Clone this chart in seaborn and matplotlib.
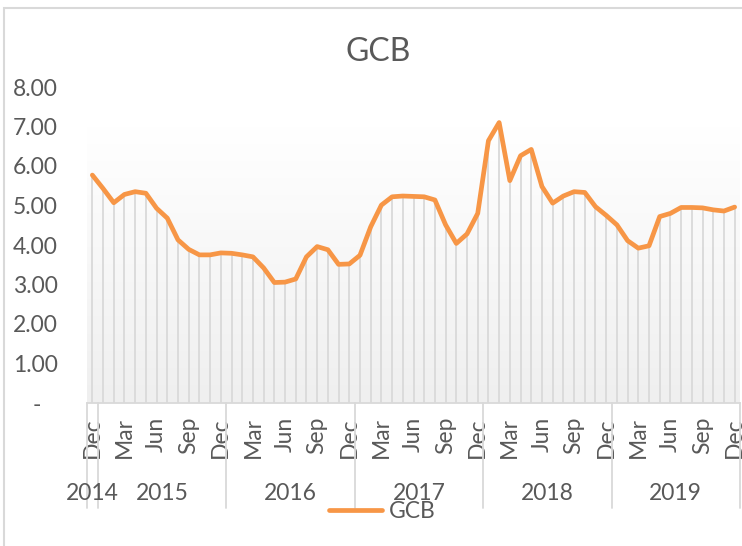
import numpy as np
import pandas as pd
import seaborn as sns
import matplotlib.pyplot as plt
from matplotlib.colors import LinearSegmentedColormap
from matplotlib.patches import Rectangle
from matplotlib.transforms import blended_transform_factory, ScaledTranslation

# monthly GCB values, Dec 2014 .. Dec 2019
start_month = "2014-12"
gcb = [5.77,
       5.43, 5.07, 5.28, 5.35, 5.31, 4.93, 4.68, 4.13, 3.89, 3.75, 3.75, 3.80,
       3.79, 3.75, 3.70, 3.42, 3.05, 3.06, 3.14, 3.70, 3.96, 3.88, 3.51, 3.52,
       3.74, 4.46, 5.01, 5.22, 5.24, 5.23, 5.22, 5.14, 4.51, 4.04, 4.28, 4.80,
       6.64, 7.10, 5.63, 6.26, 6.42, 5.48, 5.06, 5.24, 5.35, 5.33, 4.97, 4.75,
       4.51, 4.11, 3.92, 3.98, 4.72, 4.80, 4.95, 4.95, 4.94, 4.89, 4.86, 4.96]
y_ticks = [0, 1, 2, 3, 4, 5, 6, 7, 8]
month_tick_names = ["Dec", "Mar", "Jun", "Sep"]

dates = pd.date_range(start_month, periods=len(gcb), freq="MS")
df = pd.DataFrame({"idx": np.arange(len(gcb)), "date": dates, "GCB": gcb})
df["year"] = df["date"].dt.year
df["mon"] = df["date"].dt.strftime("%b")

sns.set_style("white")
plt.rcParams["font.family"] = ["Lato", "DejaVu Sans"]
grey_txt = "#595959"
grey_line = "#d9d9d9"
orange = "#F79646"
fs = 16.5

fig = plt.figure(figsize=(7.42, 5.46), dpi=100)
ax = fig.add_axes([87 / 742, 1 - 403 / 546, (740 - 87) / 742, 316 / 546])

n = len(gcb)
# soft gradient behind the series
cmap = LinearSegmentedColormap.from_list("bg", ["#ffffff", "#efefef"])
ax.imshow(np.linspace(0, 1, 256).reshape(-1, 1), cmap=cmap, aspect="auto",
          extent=(-0.5, n - 0.5, 0, 7.0), origin="upper", zorder=0)

# drop lines
ax.vlines(df["idx"], 0, df["GCB"], color=grey_line, lw=1.3, zorder=1)

sns.lineplot(data=df, x="idx", y="GCB", color=orange, lw=3.4, ax=ax,
             zorder=3, label="GCB", legend=False)

ax.set_xlim(-0.5, n - 0.5)
ax.set_ylim(0, 8)
ax.set_xlabel("")
ax.set_ylabel("")

# y axis
ax.set_yticks(y_ticks)
ax.set_yticklabels(["-"] + [f"{v:.2f}" for v in y_ticks[1:]])
ax.tick_params(axis="y", length=0, pad=21, labelsize=fs, labelcolor=grey_txt)
zero_lab = ax.get_yticklabels()[0]
zero_lab.set_transform(zero_lab.get_transform() + ScaledTranslation(-17 / 100, 0, fig.dpi_scale_trans))

# x axis: month level
mask = df["mon"].isin(month_tick_names)
ax.set_xticks(df.loc[mask, "idx"])
ax.set_xticklabels(df.loc[mask, "mon"], rotation=90)
ax.tick_params(axis="x", length=0, pad=10, labelsize=fs, labelcolor=grey_txt)

for s in ["top", "right", "left"]:
    ax.spines[s].set_visible(False)
ax.spines["bottom"].set_color(grey_line)
ax.spines["bottom"].set_linewidth(1.3)

# x axis: year level
trans = blended_transform_factory(ax.transData, ax.transAxes)
bounds = [-0.5]
for yr, g in df.groupby("year"):
    ax.text(g["idx"].mean(), -0.285, str(yr), transform=trans, ha="center",
            va="center", fontsize=fs, color=grey_txt)
    bounds.append(g["idx"].max() + 0.5)
for b in bounds:
    ax.plot([b, b], [0, -0.332], transform=trans, color=grey_line, lw=1.3,
            clip_on=False)

fig.text(378 / 742, 1 - 52 / 546, "GCB", ha="center", va="center",
         fontsize=23, color=grey_txt)

handles, labels = ax.get_legend_handles_labels()
fig.legend(handles, labels, loc="center", bbox_to_anchor=(382 / 742, 1 - 512 / 546),
           frameon=False, fontsize=fs, labelcolor=grey_txt, handlelength=2.3,
           handletextpad=0.3)

fig.patches.append(Rectangle((4 / 742, -0.1), 1.2, 1.1 - 7.5 / 546, transform=fig.transFigure,
                             fill=False, edgecolor=grey_line, lw=1.5))

fig.savefig("out.png", dpi=100)
